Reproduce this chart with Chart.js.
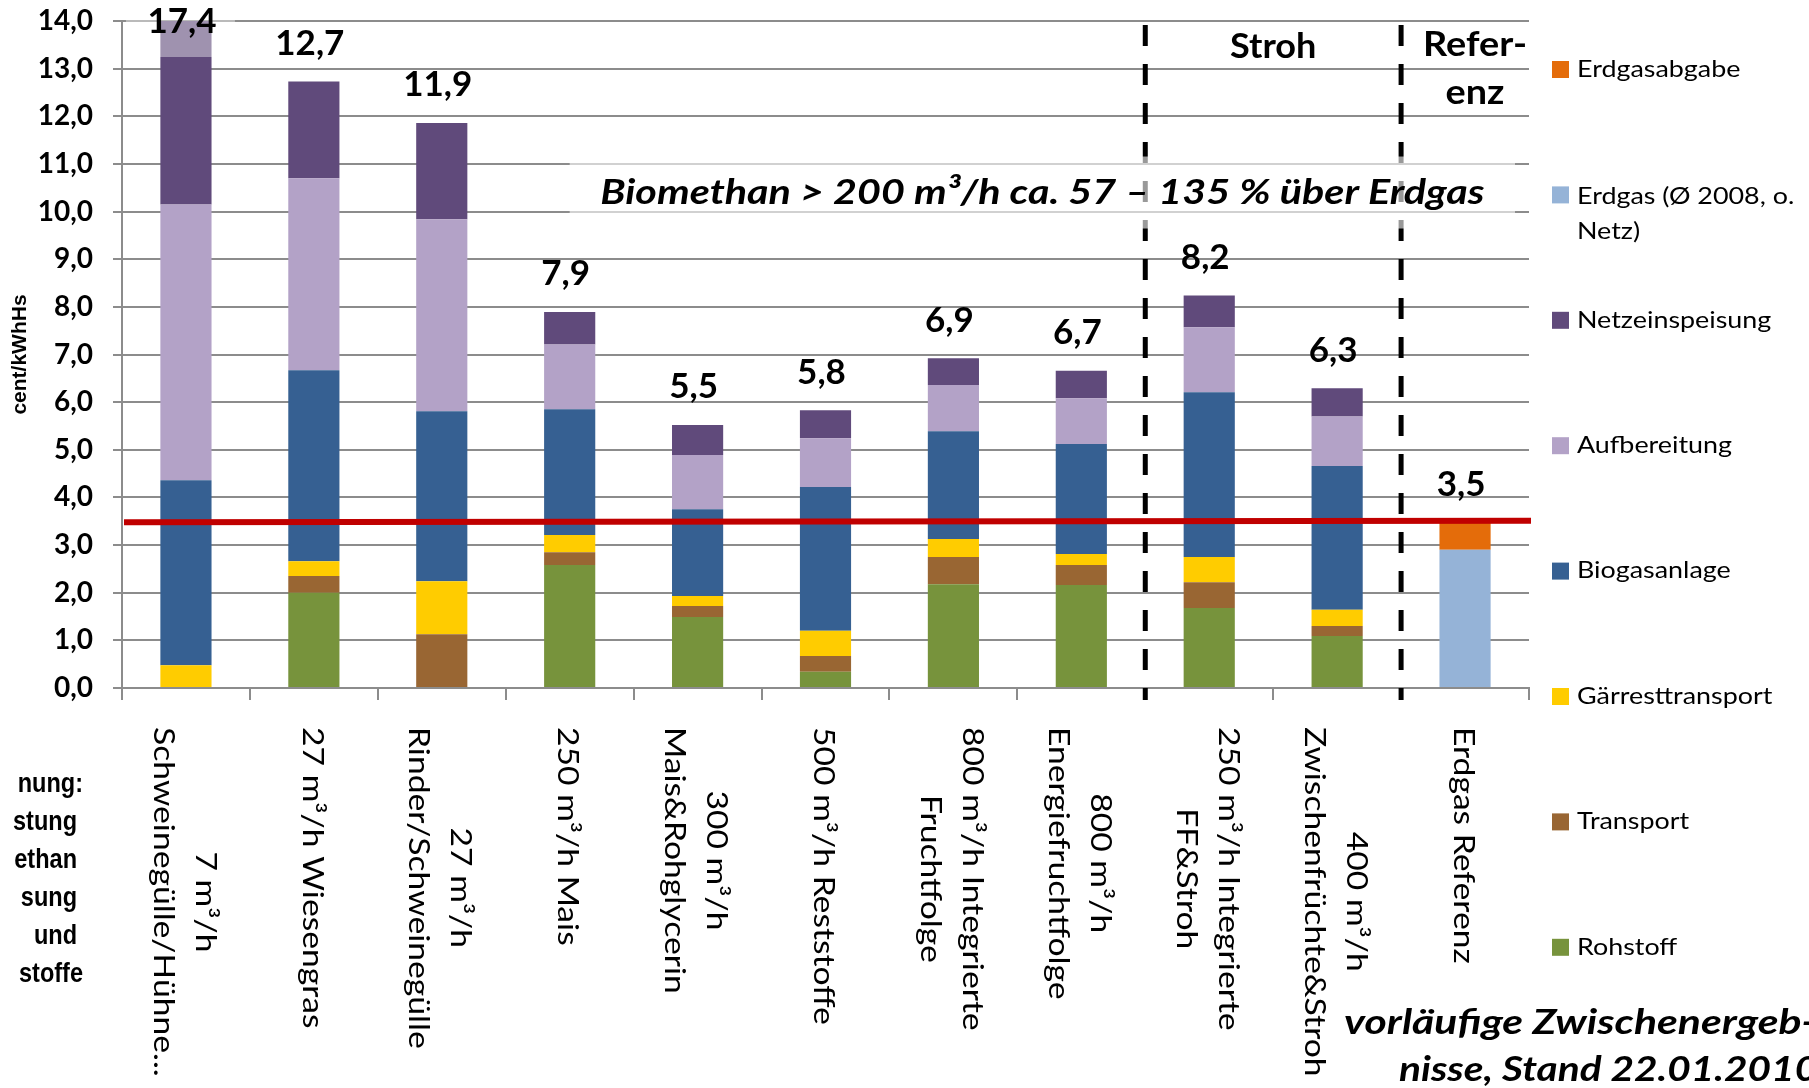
<!DOCTYPE html>
<html>
<head>
<meta charset="utf-8">
<script src="https://cdn.jsdelivr.net/npm/chart.js@4.4.1/dist/chart.umd.min.js"></script>
<style>
  html, body { margin: 0; padding: 0; background: #ffffff; overflow: hidden; }
  canvas { display: block; }
</style>
</head>
<body>
<canvas id="chart" width="1809" height="1088"></canvas>
<script>
// Plant configurations (x categories, multi-line labels)
const categories = [
  ['7 m³/h', 'Schweinegülle/Hühne...'],
  ['27 m³/h Wiesengras'],
  ['27 m³/h', 'Rinder/Schweinegülle'],
  ['250 m³/h Mais'],
  ['300 m³/h', 'Mais&Rohglycerin'],
  ['500 m³/h Reststoffe'],
  ['800 m³/h Integrierte', 'Fruchtfolge'],
  ['800 m³/h', 'Energiefruchtfolge'],
  ['250 m³/h Integrierte', 'FF&Stroh'],
  ['400 m³/h', 'Zwischenfrüchte&Stroh'],
  ['Erdgas Referenz']
];

// Cost components in cent/kWhHs, stacked bottom to top
const rohstoff          = [0.00, 2.00, 0.00, 2.58, 1.49, 0.34, 2.18, 2.16, 1.68, 1.09, 0.00];
const transport         = [0.00, 0.35, 1.13, 0.27, 0.23, 0.33, 0.57, 0.42, 0.54, 0.21, 0.00];
const gaerresttransport = [0.48, 0.31, 1.11, 0.36, 0.21, 0.53, 0.38, 0.23, 0.53, 0.34, 0.00];
const biogasanlage      = [3.88, 4.01, 3.57, 2.64, 1.82, 3.02, 2.26, 2.31, 3.46, 3.02, 0.00];
const aufbereitung      = [5.79, 4.03, 4.03, 1.36, 1.14, 1.02, 0.97, 0.96, 1.36, 1.04, 0.00];
const netzeinspeisung   = [7.25, 2.03, 2.02, 0.68, 0.63, 0.59, 0.56, 0.58, 0.67, 0.59, 0.00];
const erdgas            = [0.00, 0.00, 0.00, 0.00, 0.00, 0.00, 0.00, 0.00, 0.00, 0.00, 2.90];
const erdgasabgabe      = [0.00, 0.00, 0.00, 0.00, 0.00, 0.00, 0.00, 0.00, 0.00, 0.00, 0.57];

const seriesNames = ['Rohstoff', 'Transport', 'Gärresttransport', 'Biogasanlage',
                     'Aufbereitung', 'Netzeinspeisung', 'Erdgas (Ø 2008, o. Netz)', 'Erdgasabgabe'];
const seriesValues = [rohstoff, transport, gaerresttransport, biogasanlage,
                      aufbereitung, netzeinspeisung, erdgas, erdgasabgabe];

// Natural gas price level (left end, right end) for the red reference line
const erdgasNiveau = [3.48, 3.51];

// Y axis range and tick step
const yMin = 0, yMax = 14, yStep = 1;

// Annotation texts
const sectionLabels = [['Stroh'], ['Refer-', 'enz']];
const bannerText = 'Biomethan > 200 m³/h ca. 57 – 135 % über Erdgas';
const footnoteLines = ['vorläufige Zwischenergeb-', 'nisse, Stand 22.01.2010'];
const sideNoteLines = ['nung:', 'stung', 'ethan', 'sung', 'und', 'stoffe'];

// ---- styling ----
const seriesColors = ['#77933C', '#996633', '#FFCC00', '#366092',
                      '#B3A2C7', '#604A7B', '#95B3D7', '#E46C0A'];
const gridColor = '#8c8c8c';

const fmt = v => v.toFixed(1).replace('.', ',');
const totals = categories.map((_, i) => seriesValues.reduce((s, arr) => s + arr[i], 0));

function drawStretched(ctx, text, x, y, font, align, stretch, baseline) {
  ctx.save();
  ctx.font = font;
  ctx.textAlign = align;
  ctx.textBaseline = baseline || 'middle';
  ctx.translate(x, y);
  ctx.scale(stretch, 1);
  ctx.fillText(text, 0, 0);
  ctx.restore();
}

function wrapWords(ctx, text, maxW) {
  const words = text.split(' ');
  const lines = [];
  let cur = '';
  words.forEach(w => {
    const t = cur ? cur + ' ' + w : w;
    if (cur && ctx.measureText(t).width > maxW) { lines.push(cur); cur = w; }
    else cur = t;
  });
  if (cur) lines.push(cur);
  return lines;
}

const overlayPlugin = {
  id: 'overlay',
  afterDraw(chart) {
    const ctx = chart.ctx;
    const xs = chart.scales.x, ys = chart.scales.y;
    const area = chart.chartArea;
    const mid = (a, b) => (xs.getPixelForValue(a) + xs.getPixelForValue(b)) / 2;

    // red natural gas reference line
    ctx.save();
    ctx.strokeStyle = '#C00000';
    ctx.lineWidth = 6;
    ctx.beginPath();
    ctx.moveTo(area.left + 2, ys.getPixelForValue(erdgasNiveau[0]));
    ctx.lineTo(area.right + 2, ys.getPixelForValue(erdgasNiveau[1]));
    ctx.stroke();
    ctx.restore();

    // dashed separators between the groups
    const sepX = [mid(7, 8), mid(9, 10)];
    ctx.save();
    ctx.strokeStyle = '#000000';
    ctx.lineWidth = 5;
    ctx.setLineDash([21, 18]);
    sepX.forEach(x => {
      ctx.beginPath();
      ctx.moveTo(x, area.top + 4);
      ctx.lineTo(x, area.bottom + 12);
      ctx.stroke();
    });
    ctx.restore();

    // banner box with translucent fill
    const bannerY = ys.getPixelForValue(10.4);
    const bx0 = xs.getPixelForValue(3), bx1 = area.right - 14;
    ctx.save();
    ctx.fillStyle = 'rgba(255,255,255,0.6)';
    ctx.fillRect(bx0, bannerY - 36, bx1 - bx0, 72);
    ctx.restore();
    ctx.fillStyle = '#000000';
    drawStretched(ctx, bannerText, (bx0 + bx1) / 2, bannerY, 'italic bold 35px Lato', 'center', 1.18);

    // total value labels above the stacks
    totals.forEach((t, i) => {
      const cx = xs.getPixelForValue(i);
      let y = ys.getPixelForValue(t) - 38;
      if (y < area.top + 1) {
        y = area.top + 1;
        ctx.save();
        ctx.fillStyle = 'rgba(255,255,255,0.4)';
        ctx.fillRect(cx - 60, 0, 109, y + 35);
        ctx.restore();
      }
      ctx.fillStyle = '#000000';
      drawStretched(ctx, fmt(t), cx - 4, y, 'bold 35px Lato', 'center', 1.0);
    });

    // section headings
    ctx.fillStyle = '#000000';
    drawStretched(ctx, sectionLabels[0][0], (sepX[0] + sepX[1]) / 2, area.top + 26, 'bold 35px Lato', 'center', 1.03);
    sectionLabels[1].forEach((t, k) => {
      drawStretched(ctx, t, xs.getPixelForValue(10) + 10, area.top + 24 + k * 48, 'bold 35px Lato', 'center', 1.08);
    });

    // rotated category labels, reading downwards
    ctx.save();
    ctx.fillStyle = '#000000';
    ctx.font = '29px Lato';
    ctx.textAlign = 'left';
    ctx.textBaseline = 'middle';
    categories.forEach((lines, i) => {
      const cx = xs.getPixelForValue(i) - 2;
      ctx.save();
      ctx.translate(cx, area.bottom + 39);
      ctx.rotate(Math.PI / 2);
      ctx.scale(1.16, 1);
      const widths = lines.map(l => ctx.measureText(l).width);
      const maxW = Math.max(...widths);
      const lh = 42;
      lines.forEach((l, k) => {
        const ly = (k - (lines.length - 1) / 2) * lh;
        ctx.fillText(l, (maxW - widths[k]) / 2, ly);
      });
      ctx.restore();
    });
    ctx.restore();

    // legend (top entry = top of stack)
    ctx.save();
    ctx.font = '24px Lato';
    const legX = area.right + 23, legY0 = 69, legStep = 125.4;
    for (let k = seriesNames.length - 1, row = 0; k >= 0; k--, row++) {
      const cy = legY0 + row * legStep;
      ctx.fillStyle = seriesColors[k];
      ctx.fillRect(legX, cy - 8, 17, 17);
      ctx.fillStyle = '#000000';
      ctx.save();
      ctx.scale(1.12, 1);
      const lines = wrapWords(ctx, seriesNames[k], 200);
      ctx.restore();
      const off = lines.length > 1 ? 2 : 0;
      lines.forEach((l, j) => {
        drawStretched(ctx, l, legX + 25, cy + off + j * 35, '24px Lato', 'left', 1.12);
      });
    }
    ctx.restore();

    // footnote
    ctx.fillStyle = '#000000';
    drawStretched(ctx, footnoteLines[0], 1344, 1023, 'italic bold 35px Lato', 'left', 1.22);
    drawStretched(ctx, footnoteLines[1], 1399, 1070, 'italic bold 35px Lato', 'left', 1.16);

    // side note (left margin)
    const sideRight = [83, 77, 77, 77, 77, 83];
    sideNoteLines.forEach((t, k) => {
      drawStretched(ctx, t, sideRight[k], 792 + k * 38, 'bold 28px "Liberation Sans"', 'right', 0.84, 'alphabetic');
    });
  }
};

const chart = new Chart(document.getElementById('chart'), {
  type: 'bar',
  data: {
    labels: categories,
    datasets: seriesNames.map((name, k) => ({
      label: name,
      data: seriesValues[k],
      backgroundColor: seriesColors[k],
      borderWidth: 0,
      barPercentage: 0.4,
      categoryPercentage: 1.0
    }))
  },
  options: {
    responsive: false,
    animation: false,
    devicePixelRatio: 1,
    layout: { padding: { top: 21, right: 280, bottom: 0, left: 0 } },
    plugins: {
      legend: { display: false },
      tooltip: { enabled: false }
    },
    scales: {
      x: {
        stacked: true,
        offset: true,
        grid: {
          offset: true,
          drawOnChartArea: false,
          drawTicks: true,
          tickLength: 12,
          color: gridColor,
          lineWidth: 2
        },
        border: { display: true, color: gridColor, width: 2 },
        ticks: { display: false },
        afterFit(scale) { scale.height = 400; scale.paddingLeft = 0; scale.paddingRight = 0; }
      },
      y: {
        stacked: true,
        min: yMin,
        max: yMax,
        ticks: {
          stepSize: yStep,
          padding: 20,
          color: '#000000',
          font: { family: 'Lato', weight: 'bold', size: 28 },
          callback: v => fmt(v)
        },
        grid: { color: gridColor, lineWidth: 2, tickLength: 9 },
        border: { display: true, color: gridColor, width: 2 },
        title: {
          display: true,
          text: 'cent/kWhHs',
          color: '#000000',
          font: { family: 'Liberation Sans', weight: 'bold', size: 21 },
          padding: { top: 8, bottom: 0 }
        },
        afterFit(scale) {
          scale.width = 122;
          scale.paddingTop = 0;
          scale.paddingBottom = 0;
        }
      }
    }
  },
  plugins: [overlayPlugin]
});
</script>
</body>
</html>
